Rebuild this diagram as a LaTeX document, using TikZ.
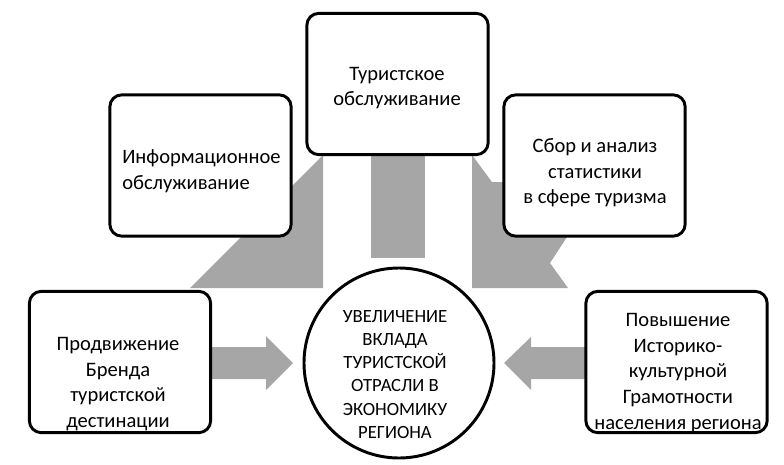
\documentclass[tikz,border=0pt]{standalone}
\usepackage{fontspec}
\setmainfont{Carlito}
\usetikzlibrary{positioning, shapes}
\definecolor{arrowgray}{RGB}{166,166,166}
\tikzset{
        box/.style={draw, line width=2.2pt, rounded corners=9pt, fill=white,
            minimum width=136pt, minimum height=106pt}, % the five rounded boxes
        boxtext/.style={align=center, font=\fontsize{15.4}{19.2}\selectfont, inner sep=0pt},
        goal/.style={draw, circle, line width=2.2pt, fill=white, minimum size=142.5pt},
        goaltext/.style={align=center, font=\fontsize{14}{17.3}\selectfont, inner sep=0pt},
        blockarrow/.style={fill=arrowgray}, % wide gray arrows
    }

\begin{document}
\begin{tikzpicture}[x=0.75pt, y=-0.75pt]
    \useasboundingbox (0,0) rectangle (784,464);
    % gray arrows first, the boxes cover their ends
    \fill[blockarrow] (190,288) -- (323,155) -- (323,288) -- cycle;
    \fill[blockarrow] (371,150) rectangle (425,258);
    \fill[blockarrow] (472,155) -- (492,182) -- (603,182) -- (550,263)
        -- (568,288) -- (472,288) -- cycle;
    \fill[blockarrow] (205,347) -- (266,347) -- (266,336) -- (293,363)
        -- (266,390) -- (266,379) -- (205,379) -- cycle;
    \fill[blockarrow] (592,347) -- (531,347) -- (531,337) -- (504,363)
        -- (531,390) -- (531,379) -- (592,379) -- cycle;

    \node[box] (tour) at (397.5,84) {};
    \node[box] (info) at (200.5,165.5) {};
    \node[box] (stat) at (594.5,165.5) {};
    \node[box] (brand) at (120,362) {};
    \node[box] (culture) at (676.5,362) {};
    \node[goal] (goal) at (399,363) {};

    \node[boxtext] (tour-text) at (397,88) {Туристское\\обслуживание};
    \node[boxtext, anchor=west, align=left] (info-text) at (122,171) {Информационное\\ обслуживание};
    \node[boxtext] (stat-text) at (595,173) {Сбор и анализ\\статистики\\в сфере туризма};
    \node[boxtext] (brand-text) at (118,384) {Продвижение\\Бренда\\туристской\\дестинации};
    \node[boxtext] (culture-text) at (678,373) {Повышение\\Историко-\\культурной\\Грамотности\\населения региона};
    \node[goaltext] (goal-text) at (395,374.5) {УВЕЛИЧЕНИЕ\\ВКЛАДА\\ТУРИСТСКОЙ\\ОТРАСЛИ В\\ЭКОНОМИКУ\\РЕГИОНА};
\end{tikzpicture}
\end{document}
